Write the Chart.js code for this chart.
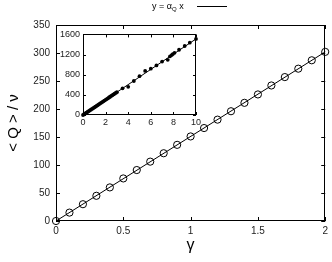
<!DOCTYPE html>
<html>
<head>
<meta charset="utf-8">
<script src="https://cdn.jsdelivr.net/npm/chart.js@4"></script>
<style>
  html, body { margin: 0; padding: 0; background: #fff; }
  #wrap { position: relative; width: 332px; height: 262px; }
  #mainChart { position: absolute; left: 0; top: 0; }
  #insetChart { position: absolute; left: 55px; top: 26px; }
  #legend {
    position: absolute; left: 152px; top: 0px; height: 12px;
    font: 9px "Liberation Sans", Arial, sans-serif; color: #000;
    white-space: nowrap; line-height: 12px;
  }
  #legend sub { font-size: 6px; vertical-align: -2px; line-height: 0; }
  #legend .sample {
    display: inline-block; width: 30px; height: 0; border-top: 1px solid #000;
    vertical-align: middle; margin-left: 13px;
  }
</style>
</head>
<body>
<div id="wrap">
  <canvas id="mainChart" width="332" height="262"></canvas>
  <canvas id="insetChart" width="150" height="104"></canvas>
  <div id="legend">y = α<sub>Q</sub> x<span class="sample"></span></div>
</div>
<script>
// main panel: <Q>/nu against gamma
const gammaValues = [0, 0.1, 0.2, 0.3, 0.4, 0.5, 0.6, 0.7, 0.8, 0.9, 1.0,
                     1.1, 1.2, 1.3, 1.4, 1.5, 1.6, 1.7, 1.8, 1.9, 2.0];
const qOverNu = [0, 15, 30, 45, 60, 76, 91, 106, 121, 136, 151,
                 166, 181, 196, 211, 226, 242, 257, 272, 287, 302];
const fitX = [0, 2];
const fitY = [0, 302];
const mainXTicks = [0, 0.5, 1, 1.5, 2];
const mainYTicks = [0, 50, 100, 150, 200, 250, 300, 350];

// inset panel
const insetX = [0, 0.1, 0.2, 0.3, 0.4, 0.5, 0.6, 0.7, 0.8, 0.9, 1.0,
                1.1, 1.2, 1.3, 1.4, 1.5, 1.6, 1.7, 1.8, 1.9, 2.0,
                2.1, 2.2, 2.3, 2.4, 2.5, 2.6, 2.7, 2.8, 2.9, 3.0,
                3.5, 4.0, 4.5, 5.0, 5.5, 6.0, 6.5, 7.0, 7.5,
                7.7, 7.85, 7.95, 8.1, 8.5, 9.0, 9.45, 10.0];
const insetY = [0, 15, 30, 45, 60, 75, 91, 106, 121, 136, 151,
                166, 181, 196, 211, 227, 242, 257, 272, 287, 302,
                317, 332, 347, 362, 378, 393, 408, 423, 438, 453,
                530, 560, 675, 770, 875, 920, 985, 1060, 1095,
                1165, 1190, 1210, 1235, 1295, 1370, 1435, 1510];
const insetFitX = [0, 10];
const insetFitY = [0, 1510];
const insetXTicks = [0, 2, 4, 6, 8, 10];
const insetYTicks = [0, 400, 800, 1200, 1600];

const pts = (xs, ys) => xs.map((x, i) => ({ x, y: ys[i] }));

// frame + inward ticks on all four sides
const frameTicks = {
  id: 'frameTicks',
  afterDraw(chart, args, opts) {
    const { ctx, chartArea: a, scales: { x, y } } = chart;
    const len = opts.len || 4;
    ctx.save();
    ctx.strokeStyle = '#000';
    ctx.lineWidth = 1;
    ctx.strokeRect(Math.round(a.left) + 0.5, Math.round(a.top) + 0.5,
                   Math.round(a.width) - 1, Math.round(a.height) - 1);
    ctx.beginPath();
    x.ticks.forEach(t => {
      const px = Math.round(x.getPixelForValue(t.value)) + 0.5;
      ctx.moveTo(px, a.bottom); ctx.lineTo(px, a.bottom - len);
      ctx.moveTo(px, a.top); ctx.lineTo(px, a.top + len);
    });
    y.ticks.forEach(t => {
      const py = Math.round(y.getPixelForValue(t.value)) + 0.5;
      ctx.moveTo(a.left, py); ctx.lineTo(a.left + len, py);
      ctx.moveTo(a.right, py); ctx.lineTo(a.right - len, py);
    });
    ctx.stroke();
    ctx.restore();
  }
};

const whiteBg = {
  id: 'whiteBg',
  beforeDraw(chart) {
    const { ctx, chartArea: a } = chart;
    ctx.save();
    ctx.fillStyle = '#fff';
    ctx.fillRect(a.left, a.top, a.width, a.height);
    ctx.restore();
  }
};

const font = "'Liberation Sans', Arial, sans-serif";
const plain = v => String(v);

new Chart(document.getElementById('mainChart'), {
  type: 'scatter',
  data: {
    datasets: [
      {
        data: pts(fitX, fitY),
        showLine: true,
        borderColor: '#000',
        borderWidth: 1,
        pointRadius: 0,
        clip: false
      },
      {
        data: pts(gammaValues, qOverNu),
        showLine: false,
        pointStyle: 'circle',
        pointRadius: 3.6,
        pointBorderWidth: 1,
        pointBorderColor: '#000',
        pointBackgroundColor: 'rgba(0,0,0,0)',
        clip: false
      }
    ]
  },
  options: {
    responsive: false,
    animation: false,
    layout: { padding: { left: 0, top: 25, right: 4, bottom: 0 } },
    plugins: { legend: { display: false }, tooltip: { enabled: false }, frameTicks: { len: 4 } },
    scales: {
      x: {
        type: 'linear', min: 0, max: 2,
        afterBuildTicks: s => { s.ticks = mainXTicks.map(v => ({ value: v })); },
        afterFit: s => { s.height = 41; },
        grid: { display: false, drawTicks: false },
        border: { display: false },
        ticks: { color: '#222', padding: 4, font: { family: font, size: 10 }, maxRotation: 0, callback: plain },
        title: { display: true, text: 'γ', color: '#000', font: { family: font, size: 16 },
                 padding: { top: 0, bottom: 7 } }
      },
      y: {
        type: 'linear', min: 0, max: 350,
        afterBuildTicks: s => { s.ticks = mainYTicks.map(v => ({ value: v })); },
        afterFit: s => { s.width = 56; },
        grid: { display: false, drawTicks: false },
        border: { display: false },
        ticks: { color: '#222', padding: 6, font: { family: font, size: 10 }, callback: plain },
        title: { display: true, text: '< Q > / ν', color: '#000', font: { family: font, size: 15 },
                 padding: { top: 5, bottom: 0 } }
      }
    }
  },
  plugins: [whiteBg, frameTicks]
});

new Chart(document.getElementById('insetChart'), {
  type: 'scatter',
  data: {
    datasets: [
      {
        data: pts(insetFitX, insetFitY),
        showLine: true,
        borderColor: '#000',
        borderWidth: 1,
        pointRadius: 0
      },
      {
        data: pts(insetX, insetY),
        showLine: false,
        pointStyle: 'circle',
        pointRadius: 1.9,
        pointBorderWidth: 0,
        pointBackgroundColor: '#000',
        clip: false
      }
    ]
  },
  options: {
    responsive: false,
    animation: false,
    layout: { padding: { left: 0, top: 8, right: 150 - 141, bottom: 0 } },
    plugins: { legend: { display: false }, tooltip: { enabled: false }, frameTicks: { len: 3 } },
    scales: {
      x: {
        type: 'linear', min: 0, max: 10,
        afterBuildTicks: s => { s.ticks = insetXTicks.map(v => ({ value: v })); },
        afterFit: s => { s.height = 15; },
        grid: { display: false, drawTicks: false },
        border: { display: false },
        ticks: { color: '#222', padding: 2, font: { family: font, size: 9 }, maxRotation: 0, callback: plain }
      },
      y: {
        type: 'linear', min: 0, max: 1600,
        afterBuildTicks: s => { s.ticks = insetYTicks.map(v => ({ value: v })); },
        afterFit: s => { s.width = 28; },
        grid: { display: false, drawTicks: false },
        border: { display: false },
        ticks: { color: '#222', padding: 3, font: { family: font, size: 9 }, callback: plain }
      }
    }
  },
  plugins: [whiteBg, frameTicks]
});
</script>
</body>
</html>
